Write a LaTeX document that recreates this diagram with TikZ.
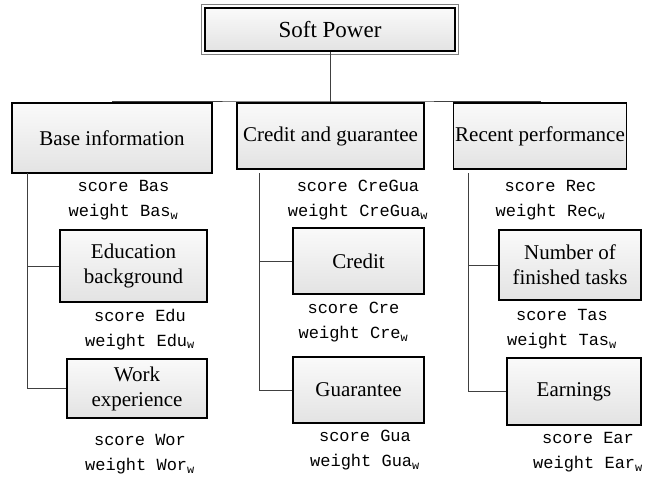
\documentclass[tikz,border=0pt]{standalone}
\usepackage{fontspec}
\setmainfont{Liberation Serif}
\setmonofont{Liberation Mono}
\tikzset{
  box/.style={draw, line width=1.2pt, top color=gray!4, bottom color=gray!22,
    align=center, inner sep=2pt, font=\fontsize{21}{25}\selectfont},
  note/.style={align=center, inner sep=0pt, font=\fontsize{17}{25}\selectfont\ttfamily},
  link/.style={black!75, line width=1pt}
}

\begin{document}
\begin{tikzpicture}[x=1pt,y=-1pt]
\useasboundingbox (0,0) rectangle (657,483);
% root
\node[box, line width=2.2pt, minimum width=250, minimum height=43,
  font=\fontsize{23}{27}\selectfont] (soft) at (330,29.5) {Soft Power};
\draw[gray, line width=0.8pt] ([shift={(-2.5,-2.5)}]soft.north west) rectangle ([shift={(2.5,2.5)}]soft.south east);
% first level
\node[box, minimum width=200, minimum height=70] (base) at (112,138) {Base information};
\node[box, minimum width=187, minimum height=66] (cregua) at (330.5,136) {Credit and guarantee};
\node[box, minimum width=172, minimum height=66] (rec) at (540,136) {Recent performance};
% second level
\node[box, minimum width=147, minimum height=72] (edu) at (133.5,266) {Education\\background};
\node[box, minimum width=140, minimum height=59] (wor) at (137,388.5) {Work\\experience};
\node[box, minimum width=131, minimum height=66] (cre) at (358.5,261) {Credit};
\node[box, minimum width=131, minimum height=66] (gua) at (358.5,390) {Guarantee};
\node[box, minimum width=142, minimum height=70] (tas) at (570,265) {Number of\\finished tasks};
\node[box, minimum width=134, minimum height=67] (ear) at (574,391.5) {Earnings};
% scores and weights
\node[note] (nbas) at (123.5,200.5) {score Bas\\weight Bas\textsubscript{w}};
\node[note] (ncregua) at (358,200.5) {score CreGua\\weight CreGua\textsubscript{w}};
\node[note] (nrec) at (550.5,200.5) {score Rec\\weight Rec\textsubscript{w}};
\node[note] (nedu) at (140,329.5) {score Edu\\weight Edu\textsubscript{w}};
\node[note] (nwor) at (140,454.5) {score Wor\\weight Wor\textsubscript{w}};
\node[note] (ncre) at (353.5,322) {score Cre\\weight Cre\textsubscript{w}};
\node[note] (ngua) at (365,450.5) {score Gua\\weight Gua\textsubscript{w}};
\node[note] (ntas) at (562,329.5) {score Tas\\weight Tas\textsubscript{w}};
\node[note] (near) at (588,452.5) {score Ear\\weight Ear\textsubscript{w}};
% tree lines
\coordinate (trunk) at (330,101);
\draw[link] (soft.south) -- (trunk);
\draw[link] (base.north) |- (trunk) -| (rec.north);
\draw[link] (trunk) -- (trunk |- cregua.north);
\coordinate (bl) at (27,173);
\coordinate (bm) at (259,173);
\coordinate (br) at (468,173);
\draw[link] (bl) |- (wor.west);
\draw[link] (bl |- edu.west) -- (edu.west);
\draw[link] (bm) |- (gua.west);
\draw[link] (bm |- cre.west) -- (cre.west);
\draw[link] (br) |- (ear.west);
\draw[link] (br |- tas.west) -- (tas.west);
\end{tikzpicture}
\end{document}
